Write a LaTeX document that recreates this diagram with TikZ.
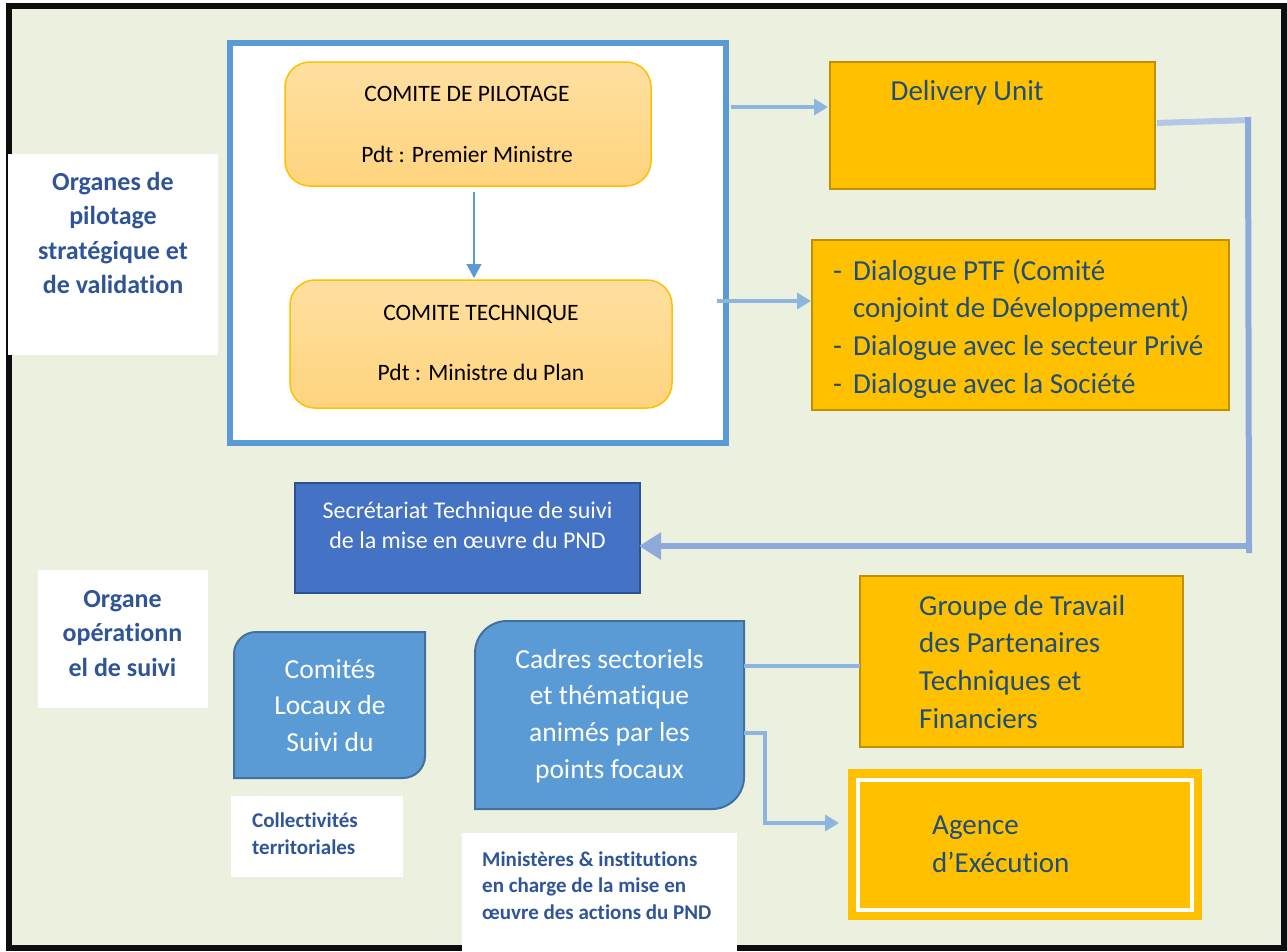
\documentclass[tikz,border=0pt]{standalone}
\usepackage{fontspec}
\setmainfont{Carlito}[Ligatures=NoCommon]
\usetikzlibrary{arrows.meta,calc}

\definecolor{canvas}{HTML}{EBF1DE}
\definecolor{accblue}{HTML}{5B9BD5}
\definecolor{accdark}{HTML}{41719C}
\definecolor{navyfill}{HTML}{4472C4}
\definecolor{navyline}{HTML}{2F528F}
\definecolor{gold}{HTML}{FFC000}
\definecolor{goldline}{HTML}{BF9000}
\definecolor{peachtop}{HTML}{FFDFA0}
\definecolor{peachbot}{HTML}{FFD47E}
\definecolor{inktext}{HTML}{1F4E79}
\definecolor{labelblue}{HTML}{2F5597}
\definecolor{linkblue}{HTML}{8DB6DF}
\definecolor{loopblue}{HTML}{8EAADB}
\definecolor{looplight}{HTML}{B4C7E7}

% font size / baseline helper and multi-line text block (baseline = first row)
\newcommand\setfs[2]{\fontsize{#1}{#2}\selectfont}
\newcommand\txtrows[2]{\begin{tabular}[t]{@{}#1@{}}#2\end{tabular}}

\tikzset{
  box/.style={anchor=north west, inner sep=0pt, outer sep=0pt},
  panel/.style={box, fill=white, draw=accblue, line width=6pt},
  comite/.style={box, top color=peachtop, bottom color=peachbot, draw=gold,
                 line width=1.5pt, rounded corners=25pt},
  goldbox/.style={box, fill=gold, draw=goldline, line width=2.5pt},
  navybox/.style={box, fill=navyfill, draw=navyline, line width=2.5pt},
  labelbox/.style={box, fill=white},
  bluebox/.style={fill=accblue, draw=accdark, line width=2pt},
  inktxt/.style={text=inktext, inner sep=0pt, font=\setfs{29}{37.7}},
  labeltxt/.style={text=labelblue, inner sep=0pt},
  link/.style={draw=linkblue, line width=3.5pt},
  tipS/.style={-{Triangle[length=14pt,width=16pt]}},
}

\begin{document}
\begin{tikzpicture}[x=1pt,y=-1pt]
\useasboundingbox (0,0) rectangle (1287,951);

% outer frame
\fill[canvas] (9,6) rectangle (1284,948);
\draw[black!95, line width=6pt] (9,6) rectangle (1284,948);

% strategic steering panel
\node[panel, minimum width=496pt, minimum height=400pt] (pil) at (230,43) {};
\node[comite, minimum width=366pt, minimum height=124pt] (cp) at (285,62) {};
\node[anchor=base, inner sep=0pt, font=\setfs{23.5}{61}] (cpt) at (467,101.5)
  {\txtrows{c}{COMITE DE PILOTAGE\\Pdt : Premier Ministre}};
\node[comite, minimum width=382pt, minimum height=128pt] (ct) at (290,280) {};
\node[anchor=base, inner sep=0pt, font=\setfs{23.5}{60}] (ctt) at (481,320.5)
  {\txtrows{c}{COMITE TECHNIQUE\\Pdt : Ministre du Plan}};

% right-hand gold boxes
\node[goldbox, minimum width=325pt, minimum height=127pt] (du) at (830,62) {};
\node[inktxt, anchor=base west] (dut) at (890.5,100.7) {Delivery Unit};

\node[goldbox, minimum width=417pt, minimum height=170pt] (dlg) at (812,240) {};
\node[inktxt, anchor=base west] (dlgt) at (833,280)
  {\txtrows{l@{\hspace{11pt}}l}{- & Dialogue PTF (Comité\\
     & conjoint de Développement)\\
   - & Dialogue avec le secteur Privé\\
   - & Dialogue avec la Société}};

\node[goldbox, minimum width=323pt, minimum height=171pt] (grp) at (860,576) {};
\node[inktxt, anchor=base west] (grpt) at (919,615)
  {\txtrows{l}{Groupe de Travail\\des Partenaires\\Techniques et\\Financiers}};

\node[box, fill=gold, minimum width=354pt, minimum height=151pt] (ag) at (848,769) {};
\draw[white, line width=4pt] (858,780) rectangle (1192,910);
\node[inktxt, anchor=base west, font=\setfs{29}{38}] (agt) at (932,834)
  {\txtrows{l}{Agence\\d’Exécution}};

% technical secretariat
\node[navybox, minimum width=345pt, minimum height=110pt] (st) at (295,483) {};
\node[anchor=base, inner sep=0pt, text=white, font=\setfs{24}{30}] (stt) at (467.5,518)
  {\txtrows{c}{Secrétariat Technique de suivi\\de la mise en œuvre du PND}};

% operational blue boxes (rounded on the diagonal corners)
\filldraw[bluebox] (234,778) -- (234,654) .. controls (234,641.9) and (243.9,632) .. (256,632)
  -- (425,632) -- (425,756) .. controls (425,768.1) and (415.1,778) .. (403,778) -- cycle;
\node[box, minimum width=191pt, minimum height=146pt] (loc) at (234,632) {};
\node[anchor=base, inner sep=0pt, text=white, font=\setfs{27.5}{36.5}] (loct) at (330,678)
  {\txtrows{c}{Comités\\Locaux de\\Suivi du}};

\filldraw[bluebox] (475,809) -- (475,653) .. controls (475,635.3) and (489.3,621) .. (507,621)
  -- (744,621) -- (744,777) .. controls (744,794.7) and (729.7,809) .. (712,809) -- cycle;
\node[box, minimum width=269pt, minimum height=188pt] (cad) at (475,621) {};
\node[anchor=base, inner sep=0pt, text=white, font=\setfs{27.5}{36.7}] (cadt) at (609.5,668)
  {\txtrows{c}{Cadres sectoriels\\et thématique\\animés par les\\points focaux}};

% white caption boxes
\node[labelbox, minimum width=210pt, minimum height=201pt] (lb1) at (8,154) {};
\node[labeltxt, anchor=base, font=\bfseries\setfs{26}{34.5}] (lb1t) at (113,190)
  {\txtrows{c}{Organes de\\pilotage\\stratégique et\\de validation}};
\node[labelbox, minimum width=170pt, minimum height=138pt] (lb2) at (38,570) {};
\node[labeltxt, anchor=base, font=\bfseries\setfs{26}{34.6}] (lb2t) at (122.5,607)
  {\txtrows{c}{Organe\\opérationn\\el de suivi}};
\node[labelbox, minimum width=172pt, minimum height=81pt] (lb3) at (231,796) {};
\node[labeltxt, anchor=base west, font=\bfseries\setfs{21}{27}] (lb3t) at (252,827)
  {\txtrows{l}{Collectivités\\territoriales}};
\node[labelbox, minimum width=275pt, minimum height=118pt] (lb4) at (462,833) {};
\node[labeltxt, anchor=base west, font=\bfseries\setfs{21}{26.7}] (lb4t) at (482,866)
  {\txtrows{l}{Ministères \& institutions\\en charge de la mise en\\œuvre des actions du PND}};

% connectors
\coordinate (xdown) at (474,0);
\draw[accblue, line width=1.5pt, -{Triangle[length=14pt,width=15pt]}, shorten <=6pt, shorten >=2pt]
  (cp.south -| xdown) -- (ct.north -| xdown);

\coordinate (ydu) at (0,107);
\draw[link, tipS, shorten <=5pt, shorten >=2pt] (pil.east |- ydu) -- (du.west |- ydu);
\coordinate (ydlg) at (0,301);
\draw[link, tipS, shorten <=-9pt, shorten >=1pt] (pil.east |- ydlg) -- (dlg.west |- ydlg);

\coordinate (loopB) at (1249,553);
\coordinate (yst) at (0,546);
\draw[looplight, line width=6pt, shorten <=2pt] (du.east |- 0,123) -- (1251,120);
\draw[loopblue, line width=6pt] (1248,117) -- (loopB);
\draw[loopblue, line width=6pt, -{Triangle[length=22pt,width=26pt]}, shorten >=-1pt]
  (1252,546) -- (st.east |- yst);

\coordinate (ygrp) at (0,666);
\draw[link] (cad.east |- ygrp) -- (grp.west |- ygrp);
\coordinate (yag1) at (0,733);
\coordinate (yag2) at (0,823);
\coordinate (xag) at (765,0);
\draw[link, tipS, shorten >=9pt] (cad.east |- yag1) -| (xag |- yag2) -- (ag.west |- yag2);
\end{tikzpicture}
\end{document}
